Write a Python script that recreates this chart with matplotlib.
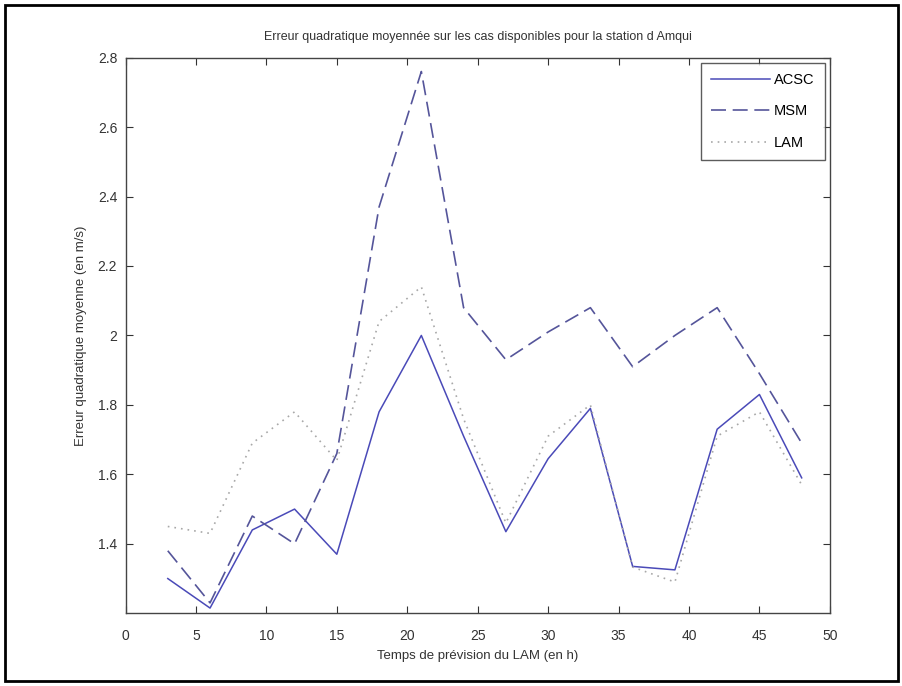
import matplotlib
matplotlib.use('Agg')
import matplotlib.pyplot as plt
from matplotlib.patches import Rectangle

plt.rcParams['font.family'] = ['Liberation Sans', 'DejaVu Sans']

# Forecast lead times (h)
hours = [3, 6, 9, 12, 15, 18, 21, 24, 27, 30, 33, 36, 39, 42, 45, 48]

# RMSE per model (m/s)
acsc = [1.30, 1.215, 1.44, 1.50, 1.37, 1.78, 2.00, 1.71, 1.435, 1.645, 1.79, 1.335, 1.325, 1.73, 1.83, 1.59]
msm = [1.38, 1.23, 1.48, 1.40, 1.66, 2.37, 2.76, 2.08, 1.93, 2.01, 2.08, 1.91, 2.00, 2.08, 1.89, 1.69]
lam = [1.45, 1.43, 1.69, 1.78, 1.64, 2.04, 2.14, 1.76, 1.46, 1.71, 1.80, 1.333, 1.29, 1.71, 1.78, 1.57]

xticks = [0, 5, 10, 15, 20, 25, 30, 35, 40, 45, 50]
yticks = [1.4, 1.6, 1.8, 2.0, 2.2, 2.4, 2.6, 2.8]
ytick_labels = ['1.4', '1.6', '1.8', '2', '2.2', '2.4', '2.6', '2.8']

fig = plt.figure(figsize=(9.03, 6.86), dpi=100)
ax = fig.add_axes([0.139, 0.106, 0.780, 0.810])

# Lines
ax.plot(hours, acsc, color='#4a4ab8', linestyle='-', linewidth=1.1, label='ACSC')
ax.plot(hours, msm, color='#55559a', linestyle=(0, (9, 4)), linewidth=1.2, label='MSM')
ax.plot(hours, lam, color='#a8a8a8', linestyle=(0, (1, 3)), linewidth=1.2, label='LAM')

ax.set_xlim(0, 50)
ax.set_ylim(1.2, 2.8)
ax.set_xticks(xticks)
ax.set_yticks(yticks)
ax.set_yticklabels(ytick_labels)
ax.tick_params(direction='in', top=True, right=True, length=5, labelsize=10,
               colors='#333333')
ax.tick_params(axis='y', pad=6)
ax.tick_params(axis='x', pad=11)
for s in ax.spines.values():
    s.set_color('#444444')
    s.set_linewidth(1.0)

ax.set_title('Erreur quadratique moyennée sur les cas disponibles pour la station d Amqui',
             fontsize=9, color='#333333', pad=13)
ax.set_xlabel('Temps de prévision du LAM (en h)', fontsize=9.5, color='#333333', labelpad=5)
ax.set_ylabel('Erreur quadratique moyenne (en m/s)', fontsize=9.5, color='#333333', labelpad=8)

leg = ax.legend(loc='upper right', fontsize=10.5, frameon=True, fancybox=False,
                edgecolor='#333333', handlelength=4.0, handletextpad=0.3,
                borderpad=0.7, labelspacing=1.2, borderaxespad=0.35)
leg.get_frame().set_linewidth(1.0)

# Outer black frame around the picture
fig.patches.append(Rectangle((0.006, 0.007), 0.988, 0.986, transform=fig.transFigure,
                             fill=False, edgecolor='black', linewidth=2))

fig.savefig('out.png', dpi=100)
